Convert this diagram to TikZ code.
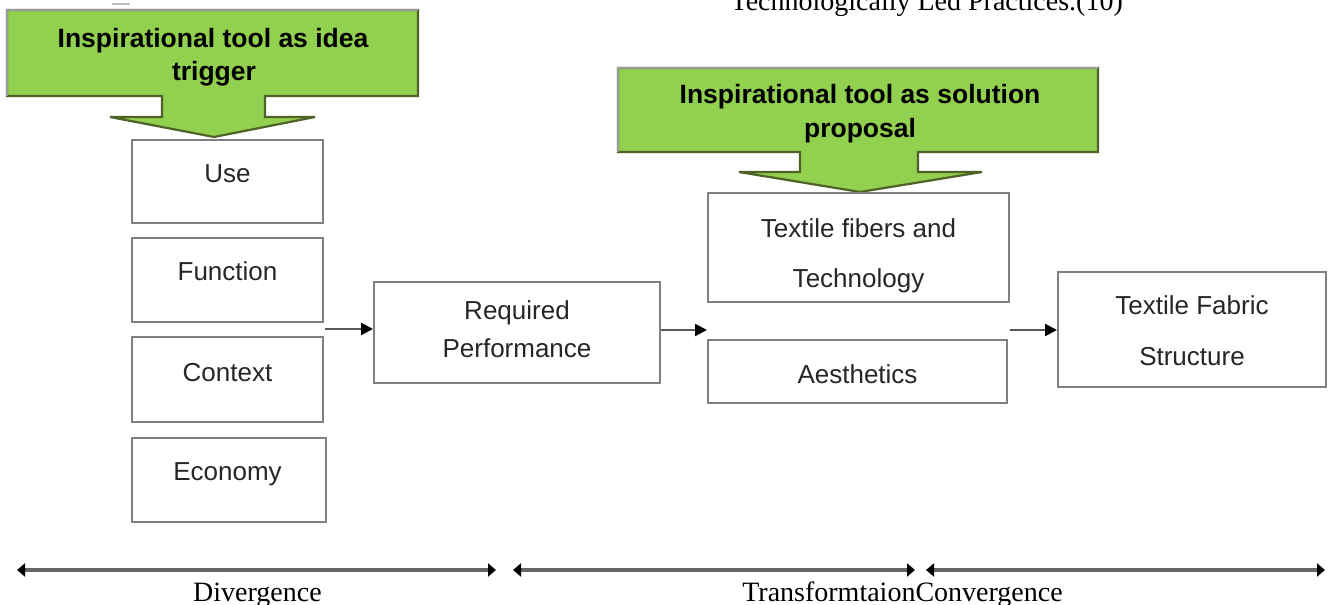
\documentclass[tikz,border=0pt]{standalone}
\usepackage{fontspec}
\setmainfont{Liberation Serif}
\setsansfont{Liberation Sans}
\usetikzlibrary{arrows.meta}
\definecolor{boxgray}{HTML}{808080}
\definecolor{calloutfill}{HTML}{92D050}
\definecolor{calloutdark}{HTML}{4F6228}
\definecolor{calloutlight}{HTML}{9A9A9A}
\definecolor{connline}{HTML}{595959}
\definecolor{axisline}{HTML}{666666}
\definecolor{txtcol}{HTML}{262626}
\tikzset{
  stagebox/.style={draw=boxgray, line width=2pt, fill=white, minimum width=#1, inner sep=0pt},
  boxtext/.style={font=\sffamily\fontsize{26}{30}\selectfont, text=txtcol, anchor=base, inner sep=0pt},
  callouttext/.style={font=\sffamily\bfseries\fontsize{26.5}{30}\selectfont, text=black, anchor=base, inner sep=0pt},
  calloutshape/.style={fill=calloutfill, draw=calloutdark, line width=2.2pt, line join=miter},
  calloutedge/.style={draw=calloutlight, line width=2.2pt},
  conn/.style={draw=connline, line width=2.2pt, -{Triangle[length=12pt,width=12pt,color=black,fill=black]}},
  axis/.style={draw=axisline, line width=4pt, {Triangle[length=8pt,width=13pt,color=black,fill=black]}-{Triangle[length=8pt,width=13pt,color=black,fill=black]}},
  axistext/.style={font=\fontsize{28}{32}\selectfont, text=black, anchor=base, inner sep=0pt}
}
\begin{document}
\begin{tikzpicture}[x=1pt,y=-1pt]
\clip (0,0) rectangle (1328,605);
\fill[white] (0,0) rectangle (1328,605);

% stray mark and caption fragment at the top
\draw[draw=black!25, line width=2pt] (112,4) -- (130,4);
\node[axistext, anchor=base east] (caption) at (1123,10) {Technologically Led Practices.(10)};

% callout 1
\path[calloutshape] (7,10) -- (418,10) -- (418,96) -- (265,96) -- (265,117) -- (315,117) -- (214,137) -- (110,117) -- (162,117) -- (162,96) -- (7,96) -- cycle;
\draw[calloutedge] (7,96) -- (7,10) -- (418,10);
\node[callouttext] (c1a) at (213,47) {Inspirational tool as idea};
\node[callouttext] (c1b) at (214,80) {trigger};

% callout 2
\path[calloutshape] (618,68) -- (1098,68) -- (1098,152) -- (918,152) -- (918,172) -- (982,172) -- (860,192) -- (739,172) -- (800,172) -- (800,152) -- (618,152) -- cycle;
\draw[calloutedge] (618,152) -- (618,68) -- (1098,68);
\node[callouttext] (c2a) at (860,103) {Inspirational tool as solution};
\node[callouttext] (c2b) at (860,137) {proposal};

% left column
\node[stagebox=191pt, minimum height=83pt] (use) at (227.5,181.5) {};
\node[boxtext] (tuse) at (227.5,182) {Use};
\node[stagebox=191pt, minimum height=84pt] (func) at (227.5,280) {};
\node[boxtext] (tfunc) at (227.5,280) {Function};
\node[stagebox=191pt, minimum height=85pt] (ctx) at (227.5,379.5) {};
\node[boxtext] (tctx) at (227.5,381) {Context};
\node[stagebox=194pt, minimum height=84pt] (eco) at (229,479.5) {};
\node[boxtext] (teco) at (227.5,480) {Economy};

% required performance
\node[stagebox=286pt, minimum height=101pt] (rp) at (517,332.5) {};
\node[boxtext] (trp1) at (517,319) {Required};
\node[boxtext] (trp2) at (517,357) {Performance};

% transformation column
\node[stagebox=301pt, minimum height=109pt] (fib) at (858.5,247.5) {};
\node[boxtext] (tfib1) at (858.5,237) {Textile fibers and};
\node[boxtext] (tfib2) at (858.5,287) {Technology};
\node[stagebox=299pt, minimum height=63pt] (aes) at (857.5,371.5) {};
\node[boxtext] (taes) at (857.5,383) {Aesthetics};

% fabric structure
\node[stagebox=268pt, minimum height=115pt] (tfs) at (1192,329.5) {};
\node[boxtext] (ttfs1) at (1192,314) {Textile Fabric};
\node[boxtext] (ttfs2) at (1192,365) {Structure};

% connectors
\coordinate (gap1) at (325,329);
\coordinate (gap2) at (707,330);
\coordinate (gap3) at (1010,330);
\draw[conn] (gap1) -- (gap1 -| rp.west);
\draw[conn] (rp.east |- gap2) -- (gap2);
\draw[conn] (gap3) -- (gap3 -| tfs.west);

% phase axes
\coordinate (a1l) at (17,570);
\coordinate (a1r) at (496,570);
\coordinate (a2l) at (513,570);
\coordinate (a2r) at (915,570);
\coordinate (a3l) at (926,570);
\coordinate (a3r) at (1325,570);
\draw[axis] (a1l) -- (a1r);
\draw[axis] (a2l) -- (a2r);
\draw[axis] (a3l) -- (a3r);
\node[axistext] (div) at (257.5,601) {Divergence};
\node[axistext] (trc) at (902.5,601) {TransformtaionConvergence};
\end{tikzpicture}
\end{document}
